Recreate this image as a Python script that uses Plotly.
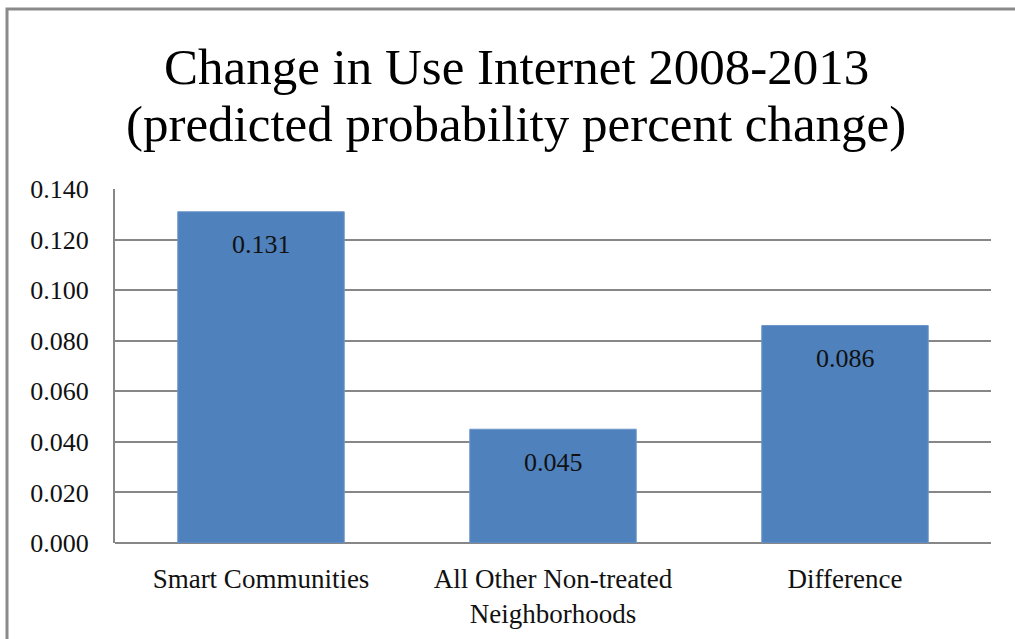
import plotly.graph_objects as go

categories = ["Smart Communities", "All Other Non-treated<br>Neighborhoods", "Difference"]
values = [0.131, 0.045, 0.086]
value_labels = ["0.131", "0.045", "0.086"]
tick_vals = [0.0, 0.02, 0.04, 0.06, 0.08, 0.10, 0.12, 0.14]
tick_text = ["0.000", "0.020", "0.040", "0.060", "0.080", "0.100", "0.120", "0.140"]
title_lines = ["Change in Use Internet 2008-2013", "(predicted probability percent change)"]

SERIF = "Liberation Serif, DejaVu Serif, serif"
GRID = "#878787"

W, H = 1015, 639
L, R, T, B = 115, 24, 189, 96
pw, ph = W - L - R, H - T - B

def px_x(p):
    return (p - L) / pw

def px_y(p):
    return (H - B - p) / ph

fig = go.Figure()
fig.add_trace(go.Bar(
    x=categories, y=values,
    marker=dict(color="#4F81BD", line=dict(color="#6d96c9", width=1)),
    width=0.57,
    hoverinfo="skip",
))

for c, v, t in zip(categories, values, value_labels):
    fig.add_annotation(x=c, y=v, xref="x", yref="y", text=t, showarrow=False,
                       yanchor="middle", yshift=-33,
                       font=dict(family=SERIF, size=26, color="#111111"))

for line, ymid in zip(title_lines, [67, 124]):
    fig.add_annotation(x=px_x(516), y=px_y(ymid), xref="paper", yref="paper",
                       text=line, showarrow=False, xanchor="center", yanchor="middle",
                       font=dict(family=SERIF, size=51, color="#000000"))

fig.add_shape(type="rect", xref="paper", yref="paper",
              x0=px_x(7), x1=px_x(1040), y0=px_y(680), y1=px_y(9),
              line=dict(color="#8a8a8a", width=3), fillcolor="rgba(0,0,0,0)", layer="above")

fig.update_layout(
    width=W, height=H,
    margin=dict(l=L, r=R, t=T, b=B, autoexpand=False),
    paper_bgcolor="white", plot_bgcolor="white",
    showlegend=False,
    xaxis=dict(showgrid=False, showline=False, ticks="", zeroline=False,
               tickfont=dict(family=SERIF, size=27, color="#111111"),
               ticklabelstandoff=17),
    yaxis=dict(range=[0, 0.14], tickvals=tick_vals, ticktext=tick_text,
               showgrid=True, gridcolor=GRID, gridwidth=2,
               zeroline=True, zerolinecolor=GRID, zerolinewidth=2,
               showline=True, linecolor=GRID, linewidth=2, ticks="",
               tickfont=dict(family=SERIF, size=26, color="#111111"),
               ticklabelstandoff=19),
)

fig.write_html("out.html")
